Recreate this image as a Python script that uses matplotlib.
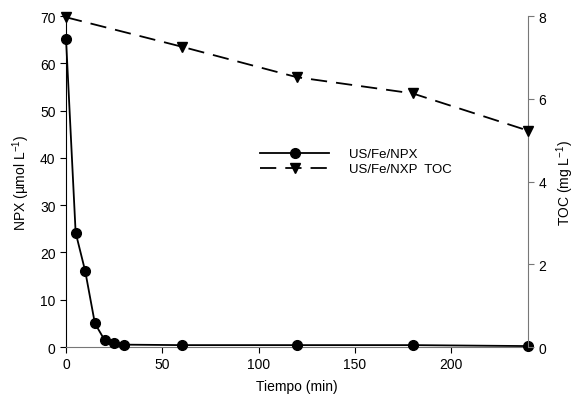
import matplotlib
matplotlib.use("Agg")
import matplotlib.pyplot as plt
from matplotlib.lines import Line2D

plt.rcParams['font.family'] = ['Liberation Sans', 'DejaVu Sans']
plt.rcParams['font.size'] = 10
plt.rcParams['mathtext.default'] = 'regular'

time_npx = [0, 5, 10, 15, 20, 25, 30, 60, 120, 180, 240]
npx = [65.2, 24.2, 16.0, 5.0, 1.5, 0.9, 0.5, 0.4, 0.4, 0.4, 0.2]
time_toc = [0, 60, 120, 180, 240]
toc = [7.97, 7.26, 6.52, 6.13, 5.23]
xticks = [0, 50, 100, 150, 200]
yticks_left = [0, 10, 20, 30, 40, 50, 60, 70]
yticks_right = [0, 2, 4, 6, 8]

fig = plt.figure(figsize=(5.76, 4.02), dpi=100)
ax = fig.add_axes([0.1146, 0.1343, 0.8021, 0.8234])
ax2 = ax.twinx()

l1, = ax.plot(time_npx, npx, color='black', lw=1.3, marker='o', ms=7, clip_on=False, zorder=5)
l2, = ax2.plot(time_toc, toc, color='black', lw=1.3, ls=(0, (9, 5)), marker='v', ms=7, clip_on=False, zorder=5)

ax.set_xlim(0, 240)
ax.set_ylim(0, 70)
ax2.set_ylim(0, 8)
ax.set_xticks(xticks)
ax.set_yticks(yticks_left)
ax2.set_yticks(yticks_right)

for a in (ax, ax2):
    a.spines['top'].set_visible(False)
ax.spines['right'].set_visible(False)
ax2.spines['left'].set_visible(False)
ax2.spines['bottom'].set_visible(False)
ax2.spines['right'].set_color('#777777')
ax.spines['bottom'].set_color('#777777')
ax.tick_params(direction='out', length=4, width=0.8)
ax2.tick_params(direction='out', length=4, width=0.8, color='#777777')
ax.tick_params(axis='x', pad=3)

ax.set_xlabel('Tiempo (min)', labelpad=6)
ax.set_ylabel('NPX (\u00b5mol L$^{-1}$)', labelpad=6)
ax2.set_ylabel('TOC (mg L$^{-1}$)', labelpad=6)

h1 = Line2D([], [], color='black', lw=1.3, marker='o', ms=7)
h2 = Line2D([], [], color='black', lw=1.3, ls=(0, (9, 5)), marker='v', ms=7)
ax.legend([h1, h2], ['US/Fe/NPX', 'US/Fe/NXP  TOC'], loc='center left',
          bbox_to_anchor=(0.395, 0.56), frameon=False, handlelength=5.2,
          handletextpad=1.5, labelspacing=0.2, fontsize=9.5)

fig.savefig('out.png', dpi=100)
